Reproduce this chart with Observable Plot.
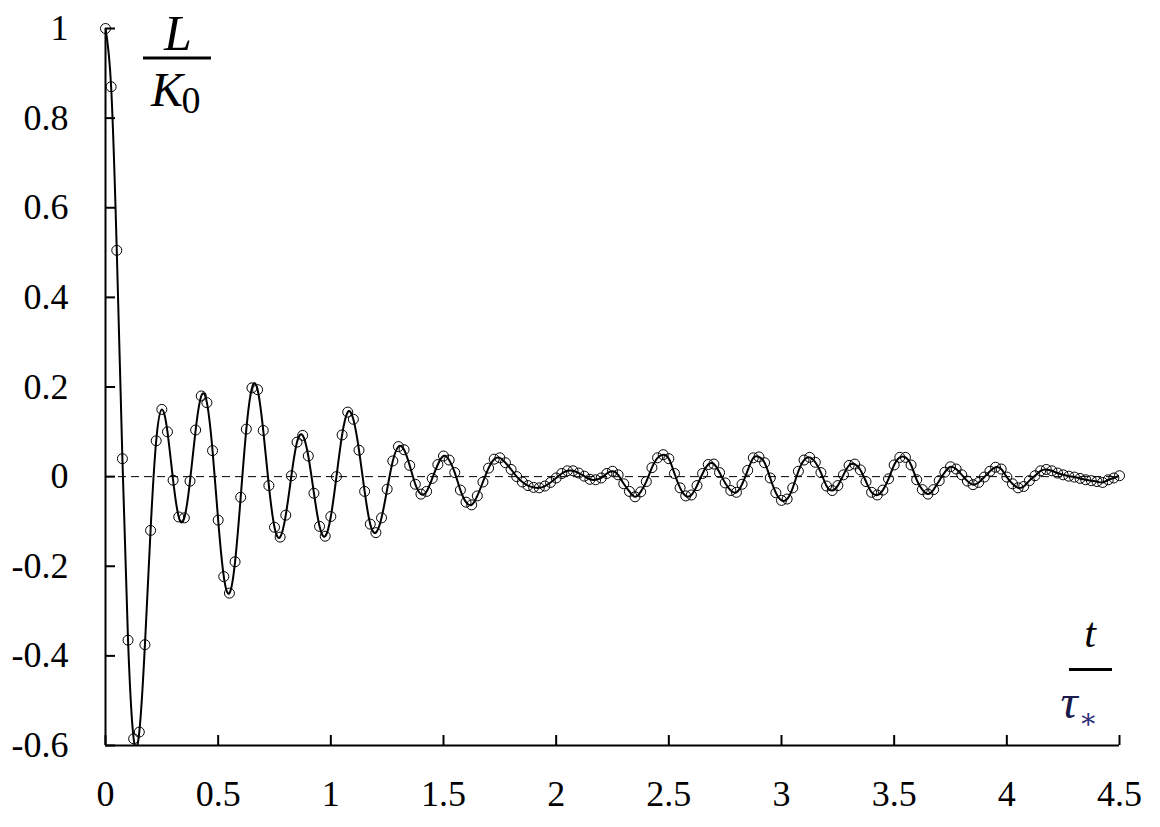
<!DOCTYPE html>
<html>
<head>
<meta charset="utf-8">
<script src="https://cdn.jsdelivr.net/npm/d3@7"></script>
<script src="https://cdn.jsdelivr.net/npm/@observablehq/plot@0.6"></script>
<style>
  html, body { margin: 0; padding: 0; background: #fff; }
  #chart svg { display: block; }
  #chart svg text { font-family: "Liberation Serif", "DejaVu Serif", "Tinos", "Nimbus Roman", "FreeSerif", "Noto Serif", "Times New Roman", Times, serif; }
</style>
</head>
<body>
<div id="chart"></div>
<script>
// Dimensionless time t / tau*
const time = [
  0, 0.025, 0.05, 0.075, 0.1, 0.125, 0.15, 0.175, 0.2, 0.225,
  0.25, 0.275, 0.3, 0.325, 0.35, 0.375, 0.4, 0.425, 0.45, 0.475,
  0.5, 0.525, 0.55, 0.575, 0.6, 0.625, 0.65, 0.675, 0.7, 0.725,
  0.75, 0.775, 0.8, 0.825, 0.85, 0.875, 0.9, 0.925, 0.95, 0.975,
  1.0, 1.025, 1.05, 1.075, 1.1, 1.125, 1.15, 1.175, 1.2, 1.225,
  1.25, 1.275, 1.3, 1.325, 1.35, 1.375, 1.4, 1.425, 1.45, 1.475,
  1.5, 1.525, 1.55, 1.575, 1.6, 1.625, 1.65, 1.675, 1.7, 1.725,
  1.75, 1.775, 1.8, 1.825, 1.85, 1.875, 1.9, 1.925, 1.95, 1.975,
  2.0, 2.025, 2.05, 2.075, 2.1, 2.125, 2.15, 2.175, 2.2, 2.225,
  2.25, 2.275, 2.3, 2.325, 2.35, 2.375, 2.4, 2.425, 2.45, 2.475,
  2.5, 2.525, 2.55, 2.575, 2.6, 2.625, 2.65, 2.675, 2.7, 2.725,
  2.75, 2.775, 2.8, 2.825, 2.85, 2.875, 2.9, 2.925, 2.95, 2.975,
  3.0, 3.025, 3.05, 3.075, 3.1, 3.125, 3.15, 3.175, 3.2, 3.225,
  3.25, 3.275, 3.3, 3.325, 3.35, 3.375, 3.4, 3.425, 3.45, 3.475,
  3.5, 3.525, 3.55, 3.575, 3.6, 3.625, 3.65, 3.675, 3.7, 3.725,
  3.75, 3.775, 3.8, 3.825, 3.85, 3.875, 3.9, 3.925, 3.95, 3.975,
  4.0, 4.025, 4.05, 4.075, 4.1, 4.125, 4.15, 4.175, 4.2, 4.225,
  4.25, 4.275, 4.3, 4.325, 4.35, 4.375, 4.4, 4.425, 4.45, 4.475,
  4.5
];

// L / K0
const ratio = [
  1.0, 0.87, 0.505, 0.04, -0.365, -0.585, -0.57, -0.375, -0.12, 0.08,
  0.15, 0.10, -0.008, -0.09, -0.092, -0.01, 0.104, 0.18, 0.165, 0.058,
  -0.097, -0.223, -0.26, -0.19, -0.046, 0.106, 0.198, 0.194, 0.103, -0.02,
  -0.113, -0.135, -0.086, 0.002, 0.077, 0.092, 0.046, -0.037, -0.111, -0.133,
  -0.089, 0.0, 0.093, 0.144, 0.128, 0.059, -0.033, -0.106, -0.125, -0.092,
  -0.028, 0.035, 0.067, 0.06, 0.025, -0.017, -0.039, -0.033, -0.004, 0.027,
  0.046, 0.037, 0.009, -0.03, -0.057, -0.063, -0.043, -0.012, 0.019, 0.039,
  0.042, 0.031, 0.016, 0.0, -0.012, -0.02, -0.024, -0.025, -0.021, -0.013,
  -0.003, 0.007, 0.013, 0.013, 0.008, 0.001, -0.006, -0.007, -0.003, 0.007,
  0.012, 0.004, -0.016, -0.033, -0.045, -0.034, -0.011, 0.02, 0.042, 0.049,
  0.04, 0.007, -0.025, -0.043, -0.041, -0.02, 0.007, 0.027, 0.028, 0.009,
  -0.014, -0.031, -0.035, -0.017, 0.014, 0.042, 0.044, 0.031, -0.003, -0.036,
  -0.053, -0.05, -0.025, 0.012, 0.037, 0.043, 0.032, 0.009, -0.021, -0.031,
  -0.02, 0.004, 0.025, 0.028, 0.015, -0.011, -0.035, -0.041, -0.03, -0.005,
  0.026, 0.043, 0.043, 0.026, -0.007, -0.029, -0.039, -0.029, -0.009, 0.01,
  0.022, 0.017, 0.004, -0.01, -0.018, -0.013, -0.001, 0.012, 0.021, 0.017,
  -0.001, -0.016, -0.025, -0.022, -0.009, 0.002, 0.013, 0.016, 0.013, 0.008,
  0.004, 0.001, -0.001, -0.004, -0.007, -0.009, -0.011, -0.013, -0.007, -0.003,
  0.002
];

const xTicks = [0, 0.5, 1, 1.5, 2, 2.5, 3, 3.5, 4, 4.5];
const xTickLabels = ["0", "0.5", "1", "1.5", "2", "2.5", "3", "3.5", "4", "4.5"];
const yTicks = [-0.6, -0.4, -0.2, 0, 0.2, 0.4, 0.6, 0.8, 1];
const yTickLabels = ["-0.6", "-0.4", "-0.2", "0", "0.2", "0.4", "0.6", "0.8", "1"];
const xDomain = [0, 4.5];
const yDomain = [-0.6, 1];
const baseline = [0];

const data = time.map((t, i) => ({t, v: ratio[i]}));

const chart = Plot.plot({
  width: 1160,
  height: 827,
  marginLeft: 105,
  marginRight: 41,
  marginTop: 28,
  marginBottom: 82,
  style: {fontSize: "36px", color: "black", background: "white", overflow: "visible"},
  x: {domain: xDomain},
  y: {domain: yDomain},
  marks: [
    Plot.ruleY(baseline, {stroke: "black", strokeWidth: 1, strokeDasharray: "8,5"}),
    Plot.line(data, {x: "t", y: "v", curve: "natural", stroke: "black", strokeWidth: 2, clip: true}),
    Plot.dot(data, {x: "t", y: "v", r: 5, stroke: "black", strokeWidth: 1, fill: "none"}),
    Plot.ruleX([xDomain[0]], {stroke: "black", strokeWidth: 2}),
    Plot.ruleY([yDomain[0]], {stroke: "black", strokeWidth: 2}),
    Plot.axisX({
      ticks: xTicks, tickSize: -10, tickPadding: 45, strokeWidth: 2,
      tickFormat: d => xTickLabels[xTicks.indexOf(d)], label: null
    }),
    Plot.axisY({
      ticks: yTicks, tickSize: -10, tickPadding: 47, strokeWidth: 2,
      tickFormat: d => yTickLabels[yTicks.indexOf(d)], label: null
    })
  ]
});

document.getElementById("chart").appendChild(chart);

// Fraction-style axis labels
const svg = d3.select(chart);
const g = svg.append("g").attr("fill", "black");

// L / K0
g.append("text").text("L").attr("x", 178).attr("y", 50)
  .attr("text-anchor", "middle").attr("font-style", "italic").attr("font-size", 50);
g.append("line").attr("x1", 143).attr("x2", 211).attr("y1", 58).attr("y2", 58)
  .attr("stroke", "black").attr("stroke-width", 3);
g.append("text").text("K").attr("x", 183).attr("y", 106)
  .attr("text-anchor", "end").attr("font-style", "italic").attr("font-size", 48);
g.append("text").text("0").attr("x", 191).attr("y", 113).attr("font-size", 38);

// t / tau*
g.append("text").text("t").attr("x", 1090).attr("y", 647)
  .attr("text-anchor", "middle").attr("font-style", "italic").attr("font-size", 42);
g.append("line").attr("x1", 1069).attr("x2", 1112).attr("y1", 669.5).attr("y2", 669.5)
  .attr("stroke", "black").attr("stroke-width", 3);
g.append("text").text("τ").attr("x", 1069).attr("y", 718)
  .attr("font-style", "italic").attr("font-size", 48).attr("fill", "#1a1a4a");
g.append("text").text("∗").attr("x", 1088).attr("y", 728)
  .attr("font-size", 28).attr("fill", "#2e2e7a");
</script>
</body>
</html>
